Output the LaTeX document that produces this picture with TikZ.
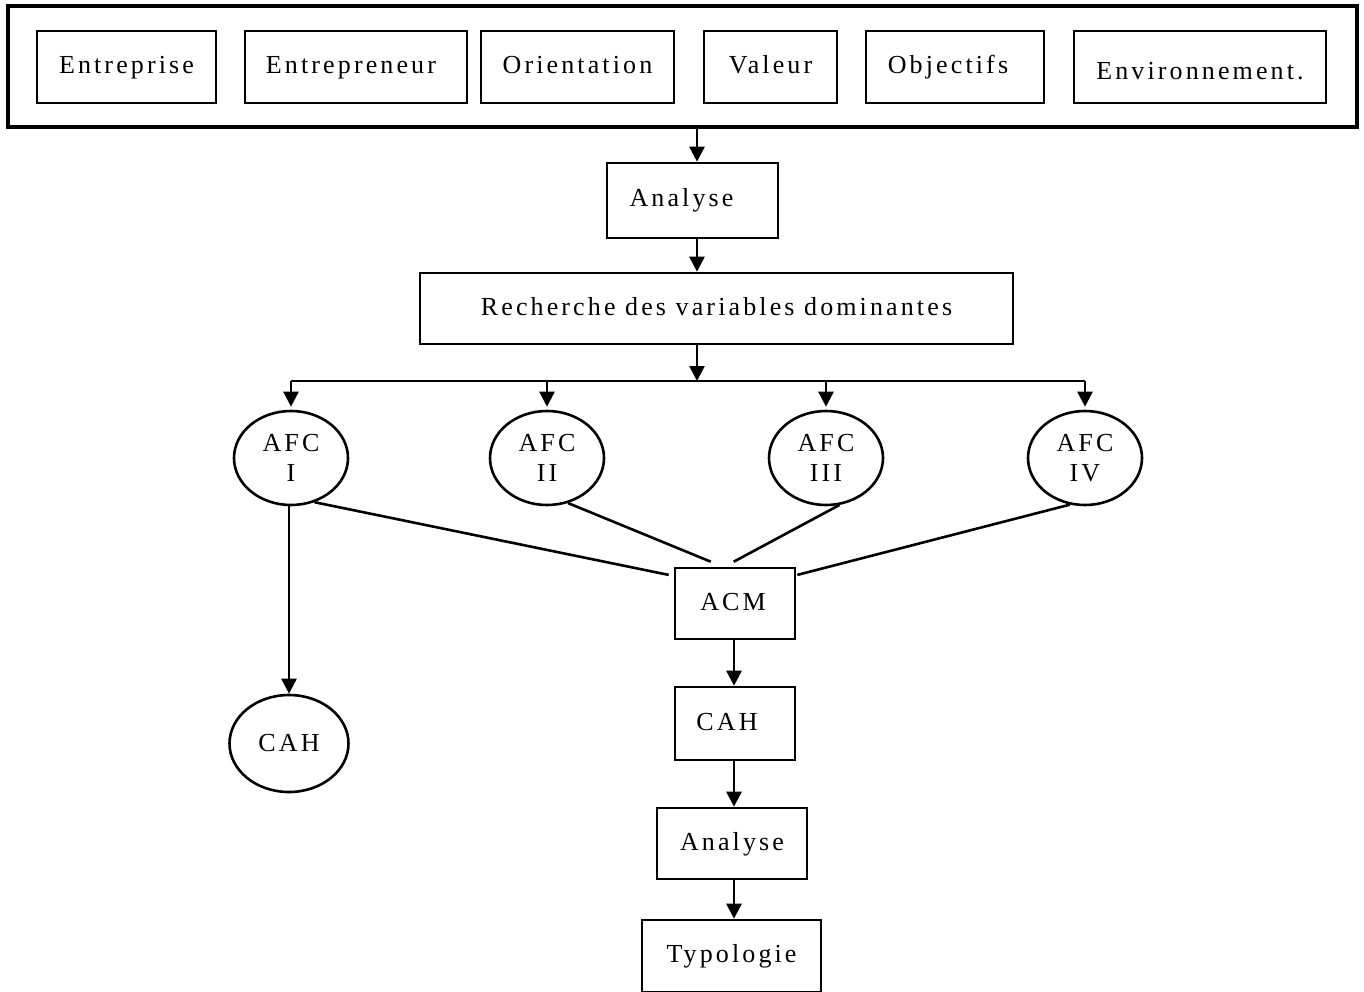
\documentclass[tikz,border=0pt]{standalone}
\usepackage{fontspec}
\setmainfont{Liberation Serif}[LetterSpace=12]
\usetikzlibrary{arrows.meta,shapes.geometric,calc}
\newcommand{\padr}[1]{\rule{#1}{0pt}}
\newcommand{\lowered}[2]{\raisebox{-#1}[\height][\depth]{#2}}
\begin{document}
\begin{tikzpicture}[x=1pt,y=-1pt,
  every node/.style={font=\fontsize{26}{30}\selectfont, text=black},
  box/.style={draw, rectangle, line width=2.6pt, inner sep=0pt, text height=18pt, text depth=5pt},
  oval/.style={draw, ellipse, line width=2.6pt, inner sep=0pt, align=center},
  arr/.style={line width=2.6pt, -{Triangle[length=15pt,width=15pt]}},
  link/.style={line width=2.6pt}]
\useasboundingbox (0,0) rectangle (1364,992);

% framed row of themes
\node[draw, rectangle, line width=4.5pt, minimum width=1349pt, minimum height=121pt] (frame) at (682.5,66.5) {};
\node[box, minimum width=179pt, minimum height=72pt] (ent) at (126.5,67) {Entreprise};
\node[box, minimum width=222pt, minimum height=72pt] (entr) at (356,67) {Entrepreneur\padr{10pt}};
\node[box, minimum width=193pt, minimum height=72pt] (orient) at (577.5,67) {Orientation};
\node[box, minimum width=133pt, minimum height=72pt] (val) at (770.5,67) {Valeur};
\node[box, minimum width=178pt, minimum height=72pt] (obj) at (955,67) {Objectifs\padr{14pt}};
\node[box, minimum width=252pt, minimum height=72pt] (env) at (1200,67) {\lowered{6pt}{Environnement.}};

% main chain
\coordinate (spine) at (697,0);
\node[box, minimum width=171pt, minimum height=75pt] (ana1) at (692.5,200.5) {Analyse\padr{22pt}};
\node[box, minimum width=593pt, minimum height=71pt] (rech) at (716.5,308.5) {Recherche des variables dominantes};
\coordinate (bus) at (697,381);

\node[oval, minimum width=114pt, minimum height=94pt] (afc1) at (291,458) {AFC\\I};
\node[oval, minimum width=114pt, minimum height=94pt] (afc2) at (547,458) {AFC\\II};
\node[oval, minimum width=114pt, minimum height=94pt] (afc3) at (826,458) {AFC\\III};
\node[oval, minimum width=114pt, minimum height=94pt] (afc4) at (1085,458) {AFC\\IV};

\node[box, minimum width=120pt, minimum height=71pt] (acm) at (735,603.5) {ACM\padr{4pt}};
\node[box, minimum width=120pt, minimum height=73pt] (cah) at (735,723.5) {CAH\padr{16pt}};
\node[box, minimum width=150pt, minimum height=71pt] (ana2) at (732,843.5) {Analyse};
\node[box, minimum width=179pt, minimum height=72pt] (typo) at (731.5,956) {Typologie};
\node[oval, minimum width=119pt, minimum height=97pt] (cahl) at (289,743.5) {CAH};
\coordinate (spine2) at (734,0);

% connectors
\draw[arr] (frame.south -| spine) -- (ana1.north -| spine);
\draw[arr] (ana1.south -| spine) -- (rech.north -| spine);
\draw[arr] (rech.south -| spine) -- (bus);
\draw[link] (afc1 |- bus) -- (afc4 |- bus);
\draw[arr] (afc1 |- bus) -- ($(afc1.north)+(0,-3)$);
\draw[arr] (afc2 |- bus) -- ($(afc2.north)+(0,-3)$);
\draw[arr] (afc3 |- bus) -- ($(afc3.north)+(0,-3)$);
\draw[arr] (afc4 |- bus) -- ($(afc4.north)+(0,-3)$);

\draw[link] (afc1.-62) -- ($(acm.155)+(-5,0)$);
\draw[link] (afc2.-65) -- ($(acm.120)+(-3,-5)$);
\draw[link] (afc3.-74) -- ($(acm.92)+(0,-5)$);
\draw[link] (afc4.-108) -- ($(acm.25)+(1,0)$);
\draw[arr] (afc1.south -| cahl) -- (cahl.north);

\draw[arr] (acm.south -| spine2) -- (cah.north -| spine2);
\draw[arr] (cah.south -| spine2) -- (ana2.north -| spine2);
\draw[arr] (ana2.south -| spine2) -- (typo.north -| spine2);
\end{tikzpicture}
\end{document}
